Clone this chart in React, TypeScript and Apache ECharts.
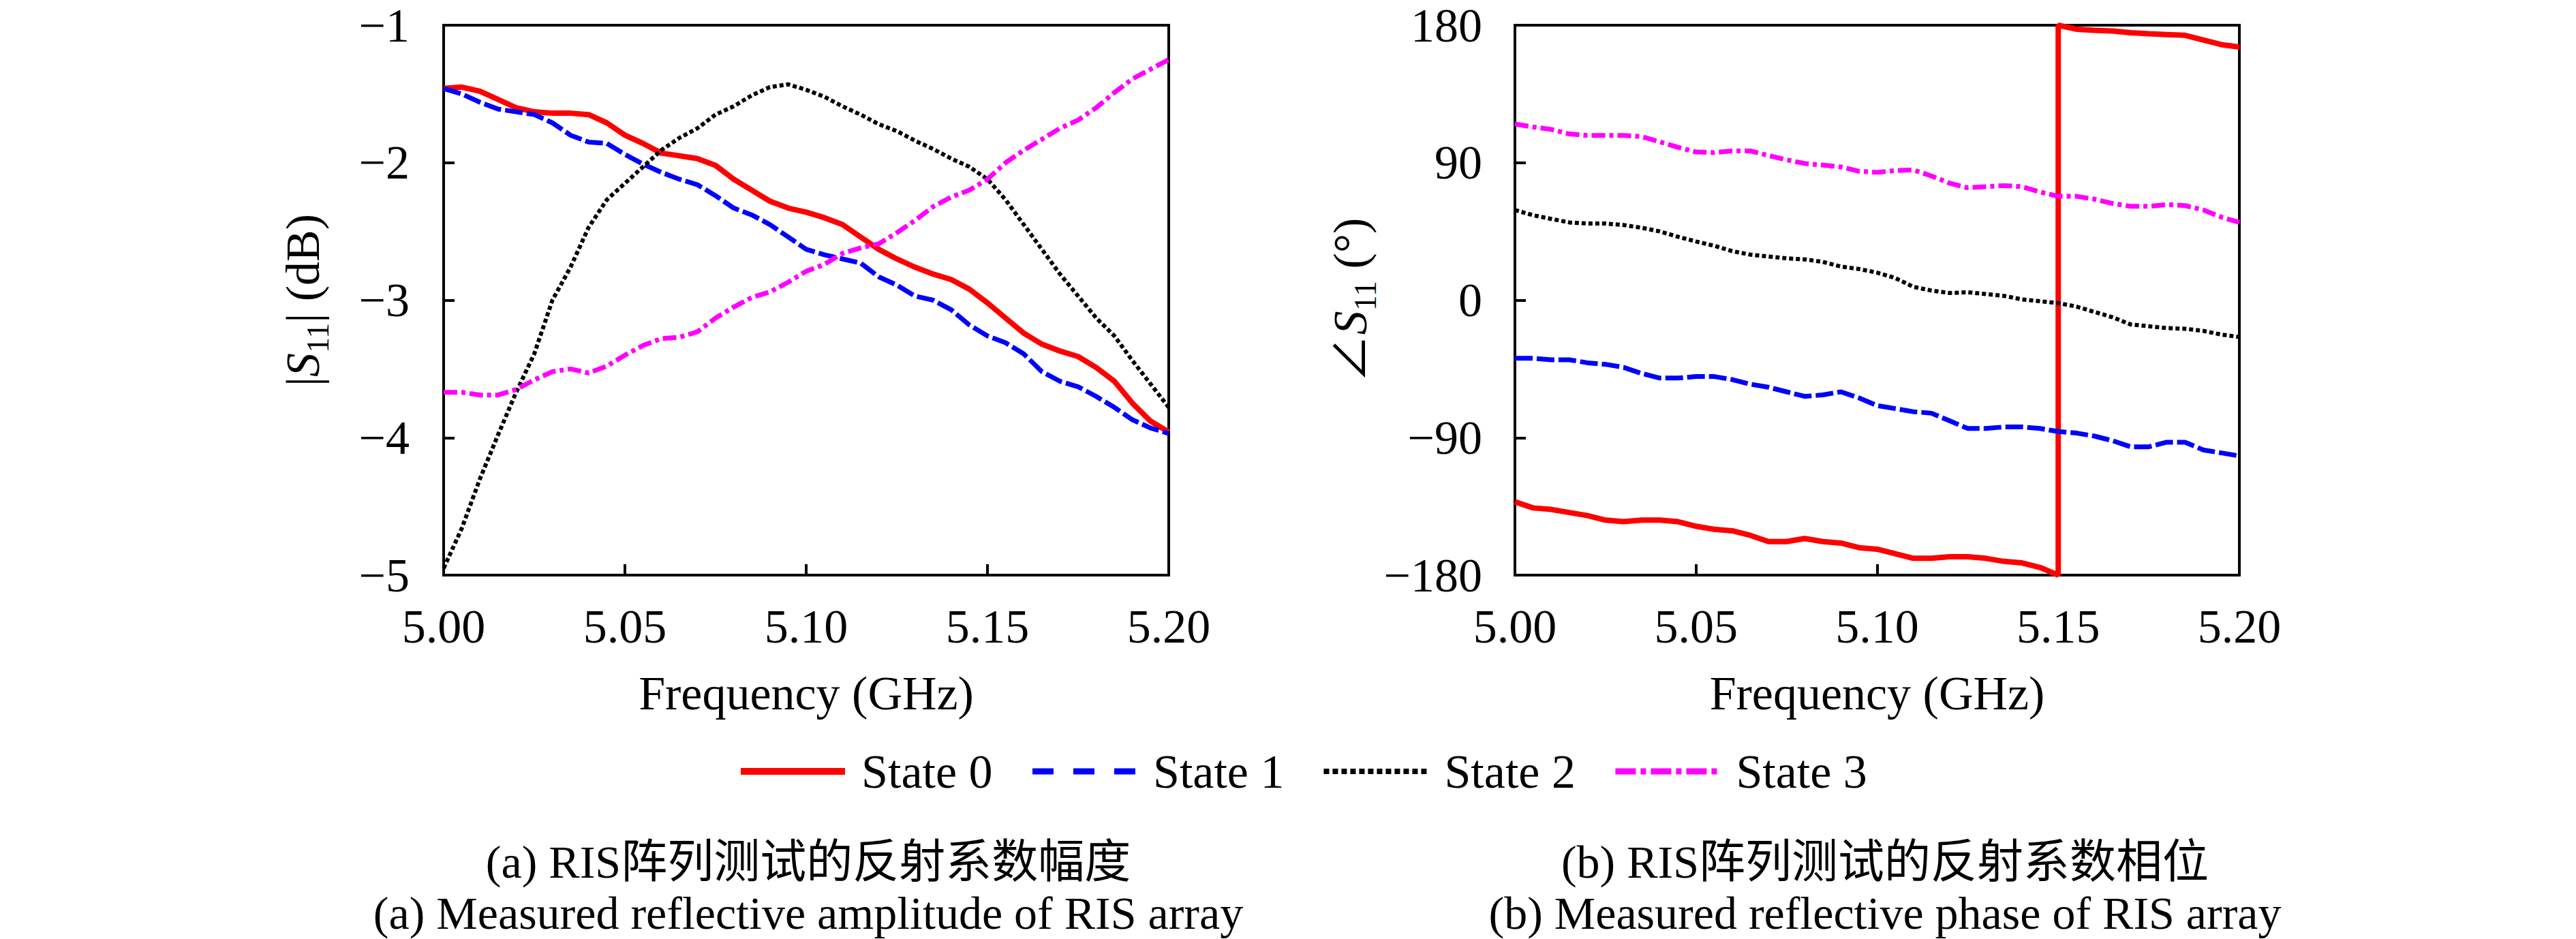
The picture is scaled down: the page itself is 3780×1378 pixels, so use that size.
import { useEffect, useRef } from "react";
import * as echarts from "echarts";

// frequency points (GHz), one every 5 MHz
const freq = [
  5.0, 5.005, 5.01, 5.015, 5.02, 5.025, 5.03, 5.035, 5.04, 5.045, 5.05,
  5.055, 5.06, 5.065, 5.07, 5.075, 5.08, 5.085, 5.09, 5.095, 5.1,
  5.105, 5.11, 5.115, 5.12, 5.125, 5.13, 5.135, 5.14, 5.145, 5.15,
  5.155, 5.16, 5.165, 5.17, 5.175, 5.18, 5.185, 5.19, 5.195, 5.2,
];

const names = ["State 0", "State 1", "State 2", "State 3"];

// |S11| in dB
const amp0 = [
  -1.46, -1.45, -1.48, -1.54, -1.6, -1.63, -1.64, -1.64, -1.65, -1.71, -1.8,
  -1.86, -1.93, -1.95, -1.97, -2.02, -2.12, -2.2, -2.28, -2.33, -2.36,
  -2.4, -2.45, -2.54, -2.63, -2.7, -2.76, -2.81, -2.85, -2.92, -3.02,
  -3.13, -3.24, -3.32, -3.37, -3.41, -3.49, -3.59, -3.75, -3.88, -3.96,
];
const amp1 = [
  -1.46, -1.5, -1.56, -1.61, -1.63, -1.65, -1.71, -1.8, -1.85, -1.86, -1.94,
  -2.01, -2.07, -2.12, -2.16, -2.24, -2.33, -2.38, -2.45, -2.54, -2.63,
  -2.67, -2.7, -2.73, -2.83, -2.89, -2.97, -3.0, -3.07, -3.18, -3.26,
  -3.31, -3.39, -3.52, -3.59, -3.63, -3.7, -3.78, -3.87, -3.93, -3.97,
];
const amp2 = [
  -4.95, -4.66, -4.3, -3.98, -3.67, -3.39, -3.0, -2.76, -2.47, -2.27, -2.15,
  -2.03, -1.91, -1.82, -1.75, -1.65, -1.59, -1.51, -1.45, -1.43, -1.47,
  -1.52, -1.59, -1.65, -1.72, -1.77, -1.84, -1.9, -1.97, -2.03, -2.12,
  -2.27, -2.45, -2.63, -2.81, -2.97, -3.13, -3.26, -3.44, -3.61, -3.78,
];
const amp3 = [
  -3.67, -3.67, -3.69, -3.69, -3.65, -3.58, -3.52, -3.5, -3.53, -3.48, -3.4,
  -3.33, -3.28, -3.27, -3.23, -3.13, -3.05, -2.98, -2.94, -2.87, -2.79,
  -2.74, -2.66, -2.62, -2.59, -2.51, -2.42, -2.32, -2.25, -2.2, -2.12,
  -2.0, -1.91, -1.83, -1.75, -1.69, -1.6, -1.49, -1.39, -1.32, -1.25,
];

// phase of S11 in degrees; State 0 wraps from -180 to 180 at 5.15 GHz
const phase0Below = [
  -132, -136, -137, -139, -141, -144, -145, -144, -144, -145, -148,
  -150, -151, -154, -158, -158, -156, -158, -159, -162, -163,
  -166, -169, -169, -168, -168, -169, -171, -172, -175, -180,
];
const phase0Above = [180, 177.4, 176.7, 176.2, 175.1, 174.4, 173.9, 173.4, 170.4, 167.3, 165.7];
const phase1 = [
  -38, -38, -39, -39, -41, -42, -44, -48, -51, -51, -50,
  -50, -52, -55, -57, -60, -63, -62, -60, -64, -69,
  -71, -73, -74, -79, -84, -84, -83, -83, -84, -86,
  -87, -89, -92, -96, -96, -93, -93, -98, -100, -102,
];
const phase2 = [
  59, 55.6, 53.2, 50.9, 50.2, 50.2, 49.2, 47.4, 45, 41.5, 38.4,
  35.6, 32.1, 29.8, 28.6, 27.4, 26.7, 25.1, 22, 20.4, 18,
  14.5, 8.7, 6.3, 4.7, 5.2, 4, 2.8, 0.5, -0.7, -1.9,
  -4.2, -7.7, -11.2, -15.9, -17.1, -18.3, -18.7, -20.1, -22.5, -24.1,
];
const phase3 = [
  115.3, 113.4, 111.8, 108.8, 107.8, 107.8, 107.8, 107.1, 103.6, 100.1, 97,
  96.6, 97.7, 97.7, 94.7, 91.9, 89.5, 88.4, 87.2, 84.4, 83.7,
  84.8, 85.3, 81.3, 76.6, 73.6, 74.3, 75, 74.3, 70.8, 68,
  68, 66.1, 63.3, 61.4, 61.4, 62.6, 61.9, 59.1, 54.4, 50.9,
];

const xTicks = { min: 5.0, max: 5.2, interval: 0.05 };
const ampTicks = { min: -5, max: -1, interval: 1 };
const phaseTicks = { min: -180, max: 180, interval: 90 };

const captions = [
  ["(a) RIS阵列测试的反射系数幅度", "(a) Measured reflective amplitude of RIS array"],
  ["(b) RIS阵列测试的反射系数相位", "(b) Measured reflective phase of RIS array"],
];

const FONT = "Liberation Serif, Noto Sans CJK SC, serif";
const colors = ["#ff0000", "#0000ff", "#000000", "#ff00ff"];

const minus = (v: number) => (v < 0 ? "\u2212" + Math.abs(v) : String(v));

const App = () => {
  const chartRef = useRef<HTMLDivElement>(null);

  useEffect(() => {
    document.body.style.margin = "0";
    if (!chartRef.current) return;
    const chart = echarts.init(chartRef.current, null, { renderer: "svg" });

    const pairs = (ys: number[], xs = freq) => xs.map((f, i) => [f, ys[i]]);
    const phase0 = [
      ...pairs(phase0Below, freq.slice(0, 31)),
      ...pairs(phase0Above, freq.slice(30)),
    ];

    const plotStyles = [
      { width: 8, type: "solid" as any },
      { width: 7, type: [26, 6] },
      { width: 6, type: [6, 4] },
      { width: 7, type: [20, 6, 6, 6] },
    ];
    const legendStyles = [
      { width: 10, type: "solid" as any },
      { width: 9, type: [31, 29] },
      { width: 8, type: [8, 5] },
      { width: 9, type: [30, 7, 8, 7] },
    ];

    const makeSeries = (idx: number, data: number[][], axis: number) => ({
      name: names[idx],
      type: "line",
      xAxisIndex: axis,
      yAxisIndex: axis,
      data,
      symbol: "none",
      lineStyle: { color: colors[idx], ...plotStyles[idx] },
      itemStyle: { color: colors[idx] },
    });

    const tickStyle = {
      axisLine: { show: false, onZero: false },
      axisTick: { show: true, inside: true, length: 16, lineStyle: { color: "#000", width: 4 } },
      splitLine: { show: false },
    };
    const nameRich = {
      s: { fontStyle: "italic", fontSize: 70, fontFamily: FONT, lineHeight: 90, verticalAlign: "middle" },
      sub: { fontSize: 46, fontFamily: FONT, lineHeight: 46, verticalAlign: "bottom" },
    };

    chart.setOption({
      animation: false,
      backgroundColor: "#fff",
      textStyle: { fontFamily: FONT, color: "#000" },
      grid: [
        { left: 651, top: 37, width: 1064, height: 807, show: true, borderColor: "#000", borderWidth: 4 },
        { left: 2223, top: 37, width: 1063, height: 807, show: true, borderColor: "#000", borderWidth: 4 },
      ],
      xAxis: [0, 1].map((g) => ({
        type: "value",
        gridIndex: g,
        ...xTicks,
        name: "Frequency (GHz)",
        nameLocation: "middle",
        nameGap: 138,
        nameTextStyle: { fontSize: 70, fontFamily: FONT, color: "#000" },
        axisLabel: {
          margin: 40,
          fontSize: 70,
          fontFamily: FONT,
          color: "#000",
          formatter: (v: number) => v.toFixed(2),
        },
        ...tickStyle,
      })),
      yAxis: [
        {
          type: "value",
          gridIndex: 0,
          ...ampTicks,
          name: "|{s|S}{sub|11}| (dB)",
          nameLocation: "middle",
          nameRotate: 90,
          nameGap: 162,
          nameTextStyle: { fontSize: 70, fontFamily: FONT, color: "#000", lineHeight: 90, rich: nameRich },
          axisLabel: { margin: 50, fontSize: 70, fontFamily: FONT, color: "#000", formatter: minus },
          ...tickStyle,
        },
        {
          type: "value",
          gridIndex: 1,
          ...phaseTicks,
          name: "\u2220{s|S}{sub|11} (\u00b0)",
          nameLocation: "middle",
          nameRotate: 90,
          nameGap: 188,
          nameTextStyle: { fontSize: 70, fontFamily: FONT, color: "#000", lineHeight: 90, rich: nameRich },
          axisLabel: { margin: 48, fontSize: 70, fontFamily: FONT, color: "#000", formatter: minus },
          ...tickStyle,
        },
      ],
      legend: {
        left: 1082,
        top: 1097,
        padding: 0,
        itemWidth: 153,
        itemHeight: 30,
        itemGap: 54,
        selectedMode: false,
        textStyle: { fontSize: 70, fontFamily: FONT, color: "#000", padding: [0, 0, 0, 19] },
        data: names.map((n, i) => ({
          name: n,
          itemStyle: { opacity: 0, borderWidth: 0 },
          lineStyle: { color: colors[i], opacity: 1, ...legendStyles[i] },
        })),
      },
      graphic: captions.flatMap((lines, k) =>
        lines.map((text, j) => ({
          type: "text",
          x: k === 0 ? 1186 : 2766,
          y: j === 0 ? 1265 : 1340,
          style: {
            text,
            fontSize: 68,
            fontFamily: FONT,
            fill: "#000",
            align: "center",
            verticalAlign: "middle",
            textAlign: "center",
            textVerticalAlign: "middle",
          },
        }))
      ),
      series: [
        makeSeries(0, pairs(amp0), 0),
        makeSeries(1, pairs(amp1), 0),
        makeSeries(2, pairs(amp2), 0),
        makeSeries(3, pairs(amp3), 0),
        makeSeries(0, phase0, 1),
        makeSeries(1, pairs(phase1), 1),
        makeSeries(2, pairs(phase2), 1),
        makeSeries(3, pairs(phase3), 1),
      ],
    });

    return () => {
      chart.dispose();
    };
  }, []);

  return <div ref={chartRef} style={{ width: "3780px", height: "1378px" }}></div>;
};

export default App;
